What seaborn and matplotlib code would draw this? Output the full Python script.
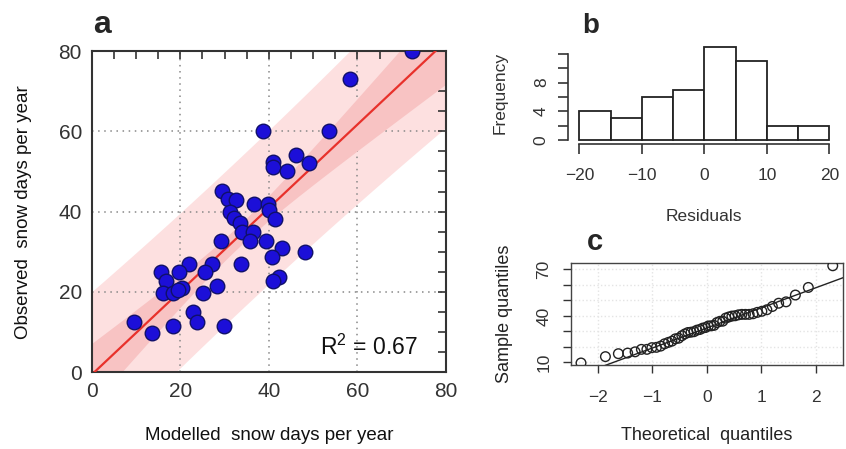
import numpy as np
import matplotlib
matplotlib.use('Agg')
import matplotlib.pyplot as plt
from matplotlib.ticker import MultipleLocator
import seaborn as sns
from statistics import NormalDist

# values
modelled = [72.4, 58.4, 38.6, 53.5, 46.1, 49.1, 41.0, 41.0, 44.0, 29.5, 30.8, 32.5,
            36.6, 39.9, 40.1, 31.2, 32.1, 33.5, 41.4, 33.9, 36.5, 35.7, 39.3, 29.3,
            43.0, 48.2, 40.7, 33.6, 27.2, 25.6, 22.0, 19.7, 15.6, 16.8, 16.0, 18.4,
            20.5, 19.5, 25.2, 28.4, 42.3, 41.0, 22.9, 23.7, 9.6, 13.7, 18.4, 29.8]
observed = [80.1, 73.0, 60.1, 60.1, 54.1, 52.2, 52.3, 51.2, 50.0, 45.2, 43.1, 42.9,
            41.9, 41.9, 40.4, 40.0, 38.3, 37.3, 38.1, 35.0, 35.0, 32.8, 32.8, 32.8,
            30.9, 29.9, 28.6, 26.9, 26.9, 25.1, 26.9, 25.1, 25.1, 22.8, 19.7, 19.7,
            20.9, 20.5, 19.7, 21.6, 23.8, 22.7, 14.9, 12.6, 12.6, 9.7, 11.6, 11.6]
r2_label = 'R$^2$ = 0.67'

resid_edges = [-20, -15, -10, -5, 0, 5, 10, 15, 20]
resid_counts = [4, 3, 6, 7, 13, 11, 2, 2]

sns.set_theme(style='white')
plt.rcParams['font.family'] = ['Liberation Sans', 'DejaVu Sans']
plt.rcParams['mathtext.fontset'] = 'custom'
plt.rcParams['mathtext.rm'] = 'Liberation Sans'
plt.rcParams['mathtext.default'] = 'regular'

fig = plt.figure(figsize=(8.46, 4.49), dpi=100)

# ---- panel a: observed vs modelled with regression bands
ax_a = fig.add_axes([0.1084, 0.1708, 0.4188, 0.7156])
x = np.array(modelled)
y = np.array(observed)
n = len(x)
slope, icpt = np.polyfit(x, y, 1)
xs = np.linspace(0, 80, 200)
fit = icpt + slope * xs
s = np.sqrt(np.sum((y - (icpt + slope * x)) ** 2) / (n - 2))
sxx = np.sum((x - x.mean()) ** 2)
t_val = 2.013  # t(0.975, 46)
ci = t_val * s * np.sqrt(1 / n + (xs - x.mean()) ** 2 / sxx)
pi = t_val * s * np.sqrt(1 + 1 / n + (xs - x.mean()) ** 2 / sxx)

ax_a.fill_between(xs, fit - pi, fit + pi, color='#fde0e0', lw=0, zorder=0.5)
ax_a.fill_between(xs, fit - ci, fit + ci, color='#f8c3c3', lw=0, zorder=0.6)
sns.lineplot(x=xs, y=fit, color='#e8312b', lw=1.6, ax=ax_a, zorder=3)
sns.scatterplot(x=x, y=y, s=110, color='#1c0fd8', edgecolor='#10106a',
                linewidth=1, ax=ax_a, zorder=4)

ax_a.set_xlim(0, 80)
ax_a.set_ylim(0, 80)
for axis in (ax_a.xaxis, ax_a.yaxis):
    axis.set_major_locator(MultipleLocator(20))
    axis.set_minor_locator(MultipleLocator(5))
ax_a.grid(True, which='major', color='#888888', linestyle=(0, (1, 3)), lw=1.1)
ax_a.tick_params(which='both', direction='in', top=True, right=True, length=6,
                 width=1.2, color='#333333', labelsize=15, labelcolor='#333333', pad=7)
for sp in ax_a.spines.values():
    sp.set_linewidth(1.5)
    sp.set_color('#333333')
ax_a.set_xlabel('Modelled  snow days per year', fontsize=13.5, labelpad=19, color='#111111')
ax_a.set_ylabel('Observed  snow days per year', fontsize=13.5, labelpad=19, color='#111111')
ax_a.text(51.5, 4.3, r2_label, fontsize=16.5, va='baseline', color='#111111')

# ---- panel b: histogram of residuals
ax_b = fig.add_axes([0.6848, 0.6882, 0.2955, 0.2078])
centers = [(a + b) / 2 for a, b in zip(resid_edges[:-1], resid_edges[1:])]
sns.histplot(x=centers, weights=resid_counts, bins=resid_edges, ax=ax_b,
             color='white', edgecolor='#222222', linewidth=1.3, alpha=1)
for p in ax_b.patches:
    p.set_clip_on(False)
ax_b.set_xlim(-20, 20)
ax_b.set_ylim(0, 13)
ax_b.spines['top'].set_visible(False)
ax_b.spines['right'].set_visible(False)
ax_b.spines['left'].set_position(('outward', 8))
ax_b.spines['left'].set_bounds(0, 12)
ax_b.spines['bottom'].set_position(('outward', 3))
ax_b.spines['bottom'].set_bounds(-20, 20)
for sp in ('left', 'bottom'):
    ax_b.spines[sp].set_color('#333333')
    ax_b.spines[sp].set_linewidth(1.2)
ax_b.set_xticks([-20, -10, 0, 10, 20])
ax_b.set_xticklabels(['\u221220', '\u221210', '0', '10', '20'])
ax_b.set_yticks([0, 2, 4, 6, 8, 10, 12])
ax_b.set_yticklabels(['0', '', '4', '', '8', '', ''], rotation=90, va='center')
ax_b.tick_params(direction='out', left=True, bottom=True, length=7, width=1.2,
                 color='#333333', labelsize=12.5, labelcolor='#333333', pad=7)
ax_b.tick_params(axis='x', pad=10)
ax_b.set_xlabel('Residuals', fontsize=12.5, labelpad=19, color='#333333')
ax_b.set_ylabel('Frequency', fontsize=12.5, labelpad=19, color='#333333')

# ---- panel c: normal QQ plot of modelled values
ax_c = fig.add_axes([0.6746, 0.1871, 0.3219, 0.2265])
nd = NormalDist()
sample = sorted(modelled)
theo = [nd.inv_cdf((i + 0.5) / n) for i in range(n)]
q1, q3 = np.percentile(sample, [25, 75])
z1, z3 = nd.inv_cdf(0.25), nd.inv_cdf(0.75)
qq_slope = (q3 - q1) / (z3 - z1)
qq_icpt = q1 - qq_slope * z1
lx = np.linspace(-3, 3, 50)
sns.lineplot(x=lx, y=qq_icpt + qq_slope * lx, color='#222222', lw=1, ax=ax_c)
sns.scatterplot(x=theo, y=sample, s=48, facecolor='none', edgecolor='#222222',
                linewidth=1, ax=ax_c, zorder=3)
ax_c.set_xlim(-2.5, 2.5)
ax_c.set_ylim(8.3, 74)
ax_c.set_xticks([-2, -1, 0, 1, 2])
ax_c.set_xticklabels(['\u22122', '\u22121', '0', '1', '2'])
ax_c.set_yticks([10, 20, 30, 40, 50, 60, 70])
ax_c.set_yticklabels(['10', '', '', '40', '', '', '70'], rotation=90, va='center')
ax_c.grid(True, color='#e4e4e4', linestyle=':', lw=1)
ax_c.tick_params(direction='out', left=True, bottom=True, length=6, width=1,
                 color='#333333', labelsize=12.5, labelcolor='#333333', pad=8)
ax_c.tick_params(axis='x', pad=12)
for sp in ax_c.spines.values():
    sp.set_color('#444444')
    sp.set_linewidth(1)
ax_c.set_xlabel('Theoretical  quantiles', fontsize=13, labelpad=16, color='#222222')
ax_c.set_ylabel('Sample quantiles', fontsize=13, labelpad=17, color='#222222')

# panel letters
fig.text(93 / 846, 1 - 33 / 449, 'a', fontsize=23, fontweight='bold', va='baseline')
fig.text(582 / 846, 1 - 33 / 449, 'b', fontsize=20, fontweight='bold', va='baseline')
fig.text(587 / 846, 1 - 250 / 449, 'c', fontsize=21, fontweight='bold', va='baseline')

fig.savefig('out.png', dpi=100)
